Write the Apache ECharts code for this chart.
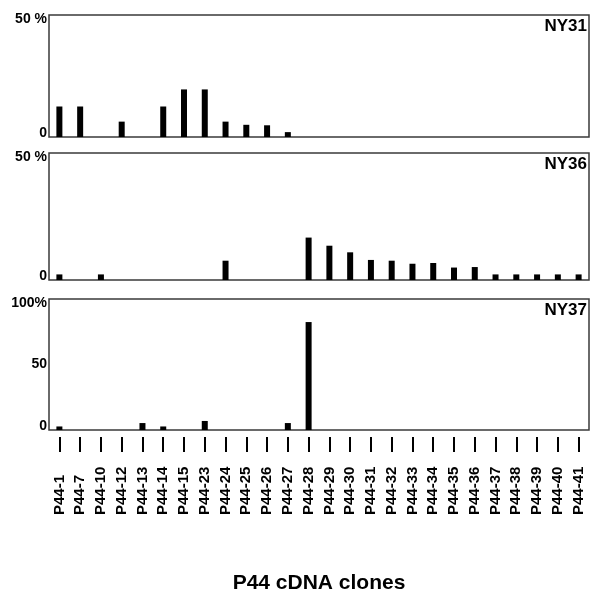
<!DOCTYPE html>
<html>
<head>
<meta charset="utf-8">
<script src="https://cdn.jsdelivr.net/npm/echarts@6/dist/echarts.min.js"></script>
<style>html,body{margin:0;padding:0;background:#fff}#c{width:591px;height:591px}</style>
</head>
<body>
<div id="c"></div>
<script>
var categories = ['P44-1','P44-7','P44-10','P44-12','P44-13','P44-14','P44-15','P44-23','P44-24','P44-25','P44-26','P44-27','P44-28','P44-29','P44-30','P44-31','P44-32','P44-33','P44-34','P44-35','P44-36','P44-37','P44-38','P44-39','P44-40','P44-41'];
var ny31 = [12.5,12.5,0,6.3,0,12.5,19.5,19.5,6.3,5,4.8,2,0,0,0,0,0,0,0,0,0,0,0,0,0,0];
var ny36 = [2.2,0,2.2,0,0,0,0,0,7.6,0,0,0,16.7,13.5,10.9,7.9,7.6,6.4,6.7,4.9,5.1,2.2,2.2,2.2,2.2,2.2];
var ny37 = [2.7,0,0,0,5.3,2.7,0,6.9,0,0,0,5.3,82.4,0,0,0,0,0,0,0,0,0,0,0,0,0];
var panelNames = ['NY31','NY36','NY37'];
var panelMax = [50, 50, 100];
var topLabels = ['50 %', '50 %', '100%'];

var font = 'Liberation Sans, Arial, sans-serif';
var grids = [
  {left: 49, right: 2, top: 15, height: 122},
  {left: 49, right: 2, top: 153, height: 127},
  {left: 49, right: 2, top: 299, height: 131}
];
grids.forEach(function(g){
  g.show = true; g.borderColor = '#3a3a3a'; g.borderWidth = 1.5; g.backgroundColor = 'transparent';
  g.containLabel = false; g.outerBoundsMode = 'none';
});

var xAxes = [0,1,2].map(function(i){
  var last = i === 2;
  return {
    type: 'category', gridIndex: i, data: categories,
    position: 'bottom',
    offset: last ? 7 : 0,
    axisLine: {show: true, onZero: false, lineStyle: {color: 'rgba(0,0,0,0)', width: 0}},
    axisTick: {show: last, alignWithLabel: true, length: 15, lineStyle: {color: '#000', width: 2}},
    axisLabel: last ? {show: true, rotate: 90, align: 'left', margin: 78, interval: 0,
      fontFamily: font, fontWeight: 'bold', fontSize: 15, color: '#000'} : {show: false},
    name: last ? 'P44 cDNA clones' : '',
    nameLocation: 'middle', nameGap: 136,
    nameTextStyle: {fontFamily: font, fontWeight: 'bold', fontSize: 21, color: '#000'}
  };
});

var yAxes = [0,1,2].map(function(i){
  var max = panelMax[i];
  return {
    type: 'value', gridIndex: i, min: 0, max: max, interval: 50,
    axisLine: {show: false}, axisTick: {show: false}, splitLine: {show: false},
    axisLabel: {
      margin: 2, fontFamily: font, fontWeight: 'bold', fontSize: 14, color: '#000',
      formatter: function(v){
        if (v === max) return '{top|' + topLabels[i] + '}';
        if (v === 0) return '{zero|0}';
        return '' + v;
      },
      rich: {
        top: {padding: [9,0,0,0], fontFamily: font, fontWeight: 'bold', fontSize: 14, color: '#000'},
        zero: {padding: [0,0,7,0], fontFamily: font, fontWeight: 'bold', fontSize: 14, color: '#000'}
      }
    }
  };
});

var datasets = [ny31, ny36, ny37];
var series = datasets.map(function(d, i){
  return {type: 'bar', xAxisIndex: i, yAxisIndex: i, data: d, barWidth: 6,
    itemStyle: {color: '#000'}, silent: true};
});

var titles = panelNames.map(function(n, i){
  return {text: n, right: 4, top: grids[i].top + 3, padding: 0,
    textStyle: {fontFamily: font, fontWeight: 'bold', fontSize: 17, color: '#000'}};
});

var chart = echarts.init(document.getElementById('c'), null, {renderer: 'canvas'});
chart.setOption({
  animation: false,
  title: titles,
  grid: grids,
  xAxis: xAxes,
  yAxis: yAxes,
  series: series
});
</script>
</body>
</html>
